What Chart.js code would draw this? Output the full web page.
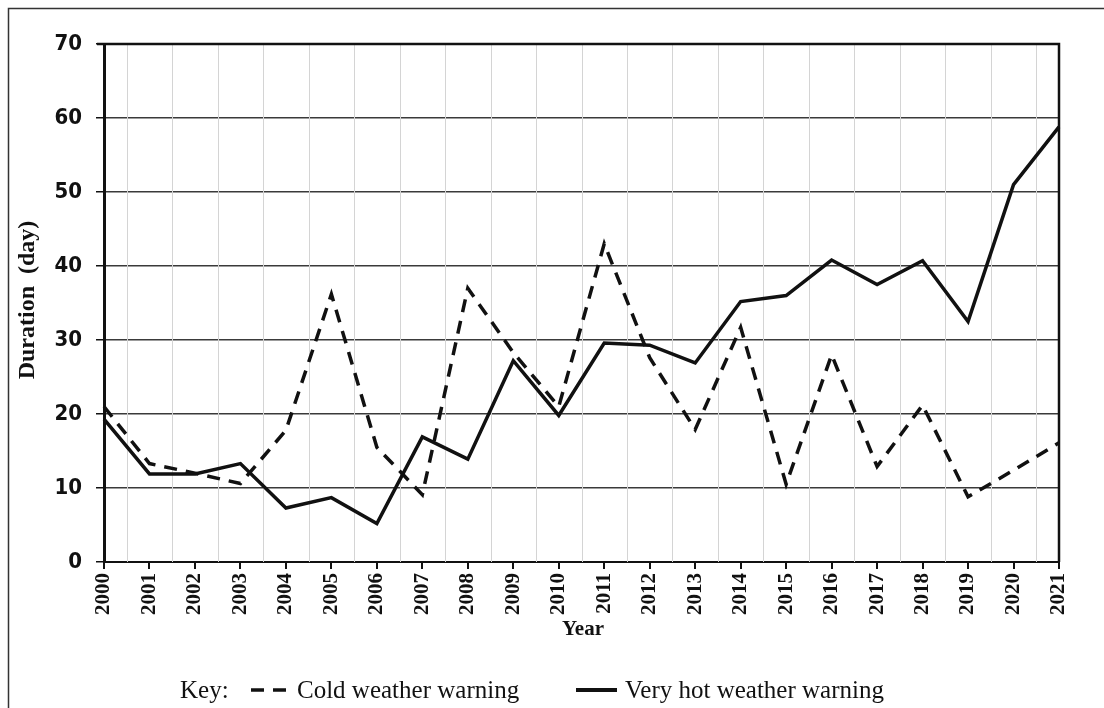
<!DOCTYPE html>
<html>
<head>
<meta charset="utf-8">
<script src="https://cdn.jsdelivr.net/npm/chart.js@4"></script>
<style>
  html, body { margin: 0; padding: 0; background: #fff; }
  #wrap { width: 1104px; height: 708px; position: relative; }
</style>
</head>
<body>
<div id="wrap"><canvas id="c" width="1104" height="708"></canvas></div>
<script>
// ---- data ----
const years = ['2000','2001','2002','2003','2004','2005','2006','2007','2008','2009','2010',
               '2011','2012','2013','2014','2015','2016','2017','2018','2019','2020','2021'];
const coldWarning = [21, 13.3, 12, 10.6, 17.8, 36.2, 15.5, 9.1, 37, 28.3, 21,
                     43, 27.6, 17.9, 31.7, 10.5, 28, 12.9, 21.2, 8.8, 12.4, 16.1];
const hotWarning  = [19.3, 11.9, 11.9, 13.3, 7.3, 8.7, 5.2, 16.9, 13.9, 27.2, 19.8,
                     29.6, 29.3, 26.9, 35.2, 36, 40.8, 37.5, 40.7, 32.5, 51, 58.8];
const yTicks = [0, 10, 20, 30, 40, 50, 60, 70];
const seriesNames = ['Cold weather warning', 'Very hot weather warning'];
const xTitle = 'Year';
const yTitle = 'Duration  (day)';
const keyLabel = 'Key:';

const ink = '#111';
const serif = '"Liberation Serif", "Times New Roman", serif';
const sansCond = '"DejaVu Sans Condensed", "DejaVu Sans", sans-serif';

const decor = {
  id: 'decor',
  beforeDraw(chart) {
    const ctx = chart.ctx;
    ctx.save();
    ctx.fillStyle = '#fff';
    ctx.fillRect(0, 0, chart.width, chart.height);
    // outer frame (top and left)
    ctx.strokeStyle = '#333';
    ctx.lineWidth = 1.5;
    ctx.beginPath();
    ctx.moveTo(8.5, 708);
    ctx.lineTo(8.5, 8.5);
    ctx.lineTo(1104, 8.5);
    ctx.stroke();
    ctx.restore();
  },
  beforeDatasetsDraw(chart) {
    const {ctx, chartArea: a, scales: {x}} = chart;
    ctx.save();
    // light vertical grid lines midway between years
    ctx.strokeStyle = '#d4d4d4';
    ctx.lineWidth = 1;
    ctx.setLineDash([]);
    for (let i = 0; i < years.length - 1; i++) {
      const px = Math.round((x.getPixelForValue(i) + x.getPixelForValue(i + 1)) / 2) + 0.5;
      ctx.beginPath();
      ctx.moveTo(px, a.top);
      ctx.lineTo(px, a.bottom);
      ctx.stroke();
    }
    // plot frame: top and right
    ctx.strokeStyle = ink;
    ctx.lineWidth = 2.5;
    ctx.beginPath();
    ctx.moveTo(a.left - 7, a.top);
    ctx.lineTo(a.right, a.top);
    ctx.lineTo(a.right, a.bottom);
    ctx.stroke();
    ctx.restore();
  },
  afterDraw(chart) {
    const {ctx, chartArea: a} = chart;
    ctx.save();
    ctx.fillStyle = ink;
    // x title
    ctx.font = 'bold 21px ' + serif;
    ctx.textAlign = 'center';
    ctx.textBaseline = 'middle';
    ctx.fillText(xTitle, 583, 630);
    // y title
    ctx.save();
    ctx.font = 'bold 24px ' + serif;
    ctx.translate(28, 300);
    ctx.rotate(-Math.PI / 2);
    ctx.fillText(yTitle, 0, 0);
    ctx.restore();
    // key / legend
    ctx.font = '25px ' + serif;
    ctx.textAlign = 'left';
    ctx.fillText(keyLabel, 180, 691);
    const ds = chart.data.datasets;
    // cold sample
    ctx.strokeStyle = ink;
    ctx.lineWidth = 3.5;
    ctx.setLineDash(ds[0].borderDash);
    ctx.beginPath();
    ctx.moveTo(251, 690);
    ctx.lineTo(291, 690);
    ctx.stroke();
    ctx.setLineDash([]);
    ctx.fillText(ds[0].label, 297, 691);
    // hot sample
    ctx.lineWidth = 4;
    ctx.beginPath();
    ctx.moveTo(576, 690);
    ctx.lineTo(617, 690);
    ctx.stroke();
    ctx.fillText(ds[1].label, 625, 691);
    ctx.restore();
  }
};

new Chart(document.getElementById('c'), {
  type: 'line',
  data: {
    labels: years,
    datasets: [
      {
        label: seriesNames[0],
        data: coldWarning,
        borderColor: ink,
        borderWidth: 3.5,
        borderDash: [13, 9],
        pointRadius: 0,
        tension: 0,
        fill: false
      },
      {
        label: seriesNames[1],
        data: hotWarning,
        borderColor: ink,
        borderWidth: 3.5,
        pointRadius: 0,
        tension: 0,
        fill: false
      }
    ]
  },
  options: {
    responsive: false,
    animation: false,
    events: [],
    layout: { padding: { left: 0, top: 44, right: 45, bottom: 68 } },
    plugins: { legend: { display: false }, tooltip: { enabled: false }, title: { display: false } },
    scales: {
      x: {
        type: 'category',
        offset: false,
        grid: {
          display: true,
          drawOnChartArea: false,
          drawTicks: true,
          tickLength: 7,
          color: ink,
          lineWidth: 2
        },
        border: { display: true, color: ink, width: 2 },
        ticks: {
          autoSkip: false,
          minRotation: 90,
          maxRotation: 90,
          padding: 4,
          color: ink,
          font: { family: serif, size: 21, weight: 'bold' }
        },
        afterFit(scale) { scale.height = 78; }
      },
      y: {
        min: 0,
        max: 70,
        afterBuildTicks(scale) { scale.ticks = yTicks.map(v => ({ value: v })); },
        grid: {
          color: '#3a3a3a',
          lineWidth: 1.5,
          drawTicks: true,
          tickLength: 8,
          tickColor: ink
        },
        border: { display: true, color: ink, width: 3 },
        ticks: {
          padding: 14,
          color: ink,
          font: { family: sansCond, size: 22, weight: 'bold' }
        },
        afterFit(scale) { scale.width = 104; }
      }
    }
  },
  plugins: [decor]
});
</script>
</body>
</html>
